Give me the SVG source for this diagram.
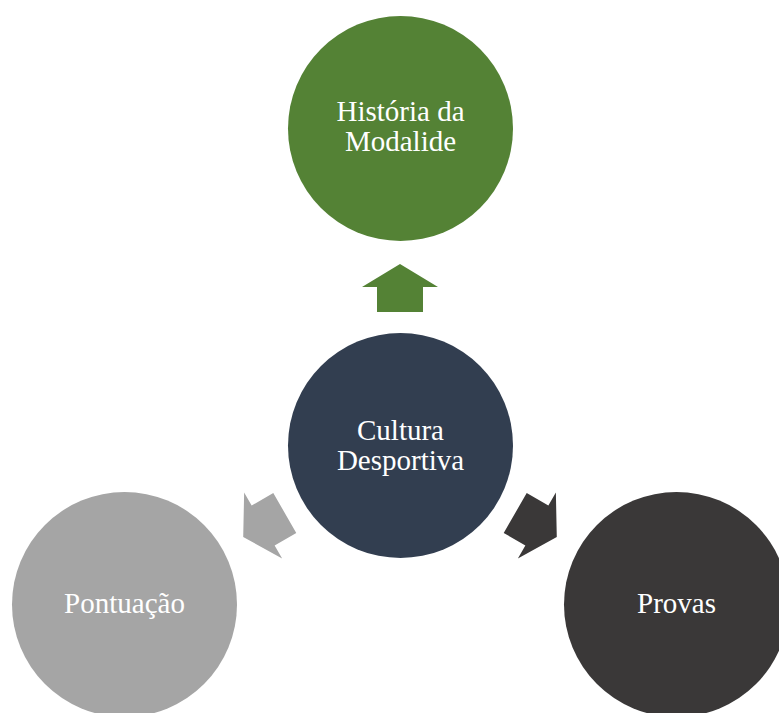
<svg xmlns="http://www.w3.org/2000/svg" width="779" height="713" viewBox="0 0 779 713">
<style>
text{font-family:"Liberation Serif","Times New Roman",serif;font-size:29px;fill:#ffffff;text-anchor:middle}
</style>
<defs>
<path id="arr" d="M0,-24 L38,-1 L23,-1 L23,24 L-23,24 L-23,-1 L-38,-1 Z"/>
</defs>
<rect width="779" height="713" fill="#ffffff"/>
<g id="connectors">
<use href="#arr" transform="translate(400,288)" fill="#548235"/>
<use href="#arr" transform="translate(264,525) rotate(-120)" fill="#A5A5A5"/>
<use href="#arr" transform="translate(536,525) rotate(120)" fill="#3A3838"/>
</g>
<g id="node-historia">
<circle cx="400.5" cy="128.5" r="112.5" fill="#548235"/>
<text x="400.5" y="121">História da</text>
<text x="400.5" y="151">Modalide</text>
</g>
<g id="node-cultura">
<circle cx="400.5" cy="445.5" r="112.5" fill="#323E50"/>
<text x="400.5" y="440">Cultura</text>
<text x="400.5" y="470">Desportiva</text>
</g>
<g id="node-pontuacao">
<circle cx="124.5" cy="604.5" r="112.5" fill="#A5A5A5"/>
<text x="124.5" y="613">Pontuação</text>
</g>
<g id="node-provas">
<circle cx="676.5" cy="604.5" r="112.5" fill="#3A3838"/>
<text x="676.5" y="613">Provas</text>
</g>
</svg>
